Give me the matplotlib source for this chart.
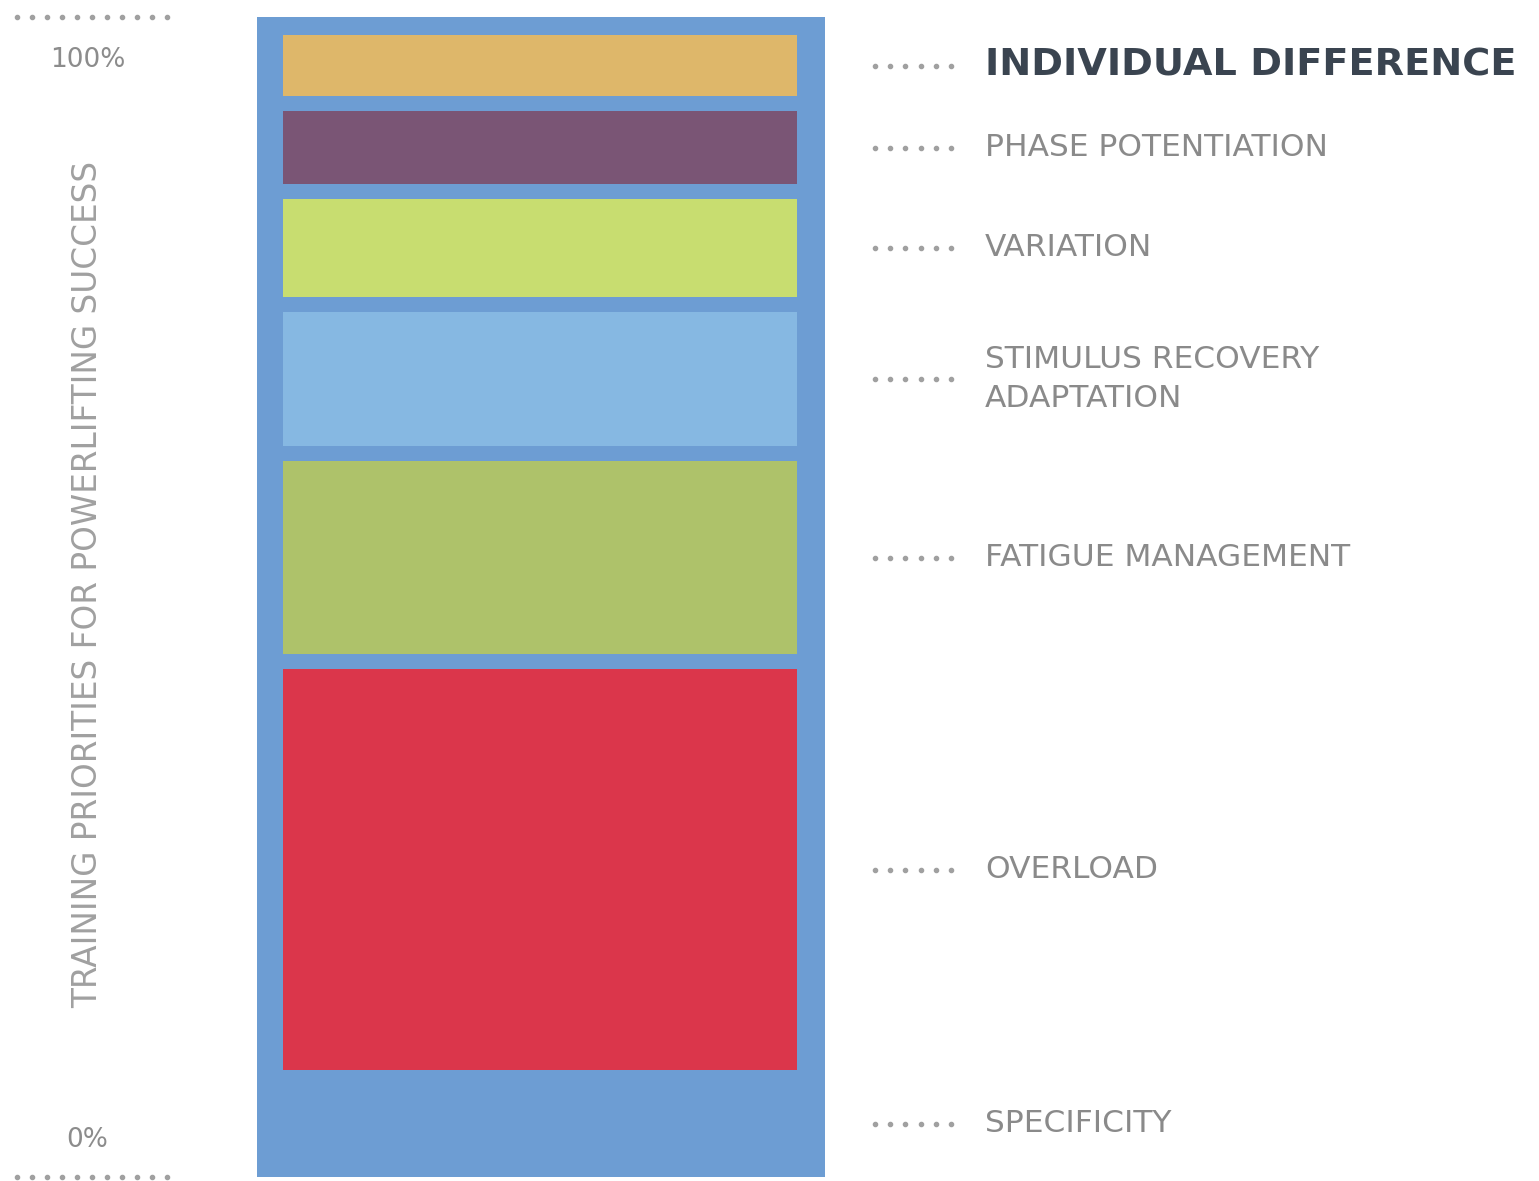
import matplotlib
matplotlib.use("Agg")
import matplotlib.pyplot as plt
import matplotlib.transforms as mtransforms
import numpy as np

# ---- data (percent of total bar height) ----
categories = ["SPECIFICITY", "OVERLOAD", "FATIGUE MANAGEMENT",
              "STIMULUS RECOVERY\nADAPTATION", "VARIATION",
              "PHASE POTENTIATION", "INDIVIDUAL DIFFERENCE"]
values = [9.2, 34.6, 16.7, 11.6, 8.5, 6.3, 5.3]
colors = ["#6D9DD3", "#DB364B", "#AEC26A", "#86B8E2", "#C8DD70",
          "#7A5575", "#DEB76A"]
tick_labels = ["0%", "100%"]
axis_label = "TRAINING PRIORITIES FOR POWERLIFTING SUCCESS"

GAP = 1.25
W, H = 1539, 1181
fig = plt.figure(figsize=(W / 100, H / 100), dpi=100)
fig.patch.set_facecolor("white")

ax = fig.add_axes([257 / W, 1 - 1177 / H, (825 - 257) / W, (1177 - 17) / H])
ax.set_xlim(0, 1)
ax.set_ylim(0, 100)
ax.axis("off")

# background = specificity full-height block
ax.bar(0.5, 100, width=1.0, bottom=0, color=colors[0], linewidth=0)

# stacked inner bars
bx0, bx1 = 26 / 568, 540 / 568
centers = [values[0] / 2]
bottom = values[0]
for i in range(1, len(values)):
    ax.bar((bx0 + bx1) / 2, values[i], width=bx1 - bx0, bottom=bottom,
           color=colors[i], linewidth=0)
    centers.append(bottom + values[i] / 2)
    bottom += values[i] + GAP

trans = mtransforms.blended_transform_factory(fig.transFigure, ax.transData)

# right labels with dotted leaders
dot_x = np.linspace(875, 951, 6) / W
for i, (cat, cy) in enumerate(zip(categories, centers)):
    ax.plot(dot_x, [cy] * len(dot_x), linestyle="none", marker="o",
            markersize=3.0, color="#A0A0A0", transform=trans, clip_on=False)
    if cat == "INDIVIDUAL DIFFERENCE":
        ax.text(985 / W, cy, cat, transform=trans, va="center", ha="left",
                fontsize=27.5, fontweight="bold", color="#3A4450",
                family="DejaVu Sans")
    else:
        ax.text(985 / W, cy, cat, transform=trans, va="center", ha="left",
                fontsize=22.5, color="#8A8A8A", family="DejaVu Sans",
                linespacing=1.45)

# left scale: dotted lines at 0 and 100
left_dots = np.linspace(17, 167, 11) / W
for yv in (0, 100):
    ax.plot(left_dots, [yv] * len(left_dots), linestyle="none", marker="o",
            markersize=3.0, color="#A0A0A0", transform=trans, clip_on=False)
ax.text(88 / W, 96.3, tick_labels[1], transform=trans, ha="center",
        va="center", fontsize=19, color="#8C8C8C")
ax.text(87 / W, 3.2, tick_labels[0], transform=trans, ha="center",
        va="center", fontsize=19, color="#8C8C8C")

fig.text(88 / W, 1 - 584 / H, axis_label, rotation=90, ha="center",
         va="center", fontsize=23.5, color="#A0A0A0")

fig.savefig("out.png", dpi=100, facecolor="white")
